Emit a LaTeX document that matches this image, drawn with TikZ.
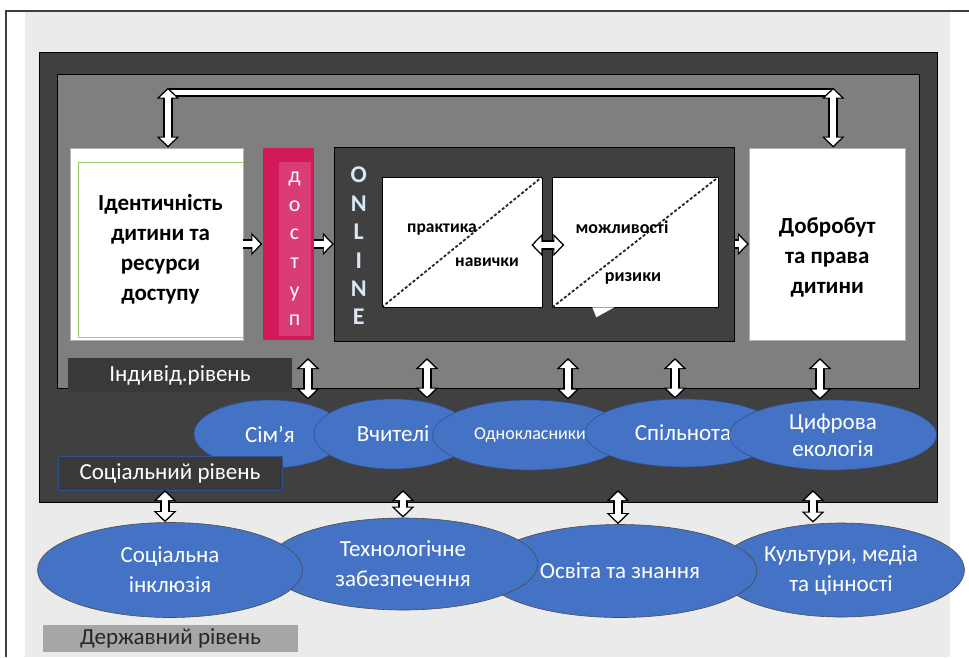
\documentclass[tikz,border=0pt]{standalone}
\usepackage{fontspec}
\setmainfont{Carlito}
\usetikzlibrary{arrows.meta,positioning,shapes.geometric}
\definecolor{Page}{HTML}{EBEBEB}
\definecolor{Dark}{HTML}{404040}
\definecolor{Mid}{HTML}{7F7F7F}
\definecolor{Label}{HTML}{3B3838}
\definecolor{Pink}{HTML}{D2195A}
\definecolor{PinkL}{HTML}{DA3C75}
\definecolor{Green}{HTML}{9BCB6B}
\definecolor{Ell}{HTML}{4472C4}
\definecolor{EllB}{HTML}{2F528F}
\definecolor{Gov}{HTML}{A6A6A6}
\definecolor{Letter}{HTML}{D9E8F6}

\begin{document}
\begin{tikzpicture}[x=1pt,y=-1pt,node distance=19pt,
panel/.style={draw=black,line width=1pt,inner sep=0pt},
card/.style={draw=gray!60,fill=white,line width=0.8pt,inner sep=0pt,minimum height=192pt},
pane/.style={draw=black,fill=white,line width=0.6pt,inner sep=0pt,minimum height=130pt},
big/.style={font=\fontsize{23}{30}\selectfont\bfseries,align=center},
small/.style={font=\fontsize{17.5}{20}\selectfont\bfseries,inner sep=1pt},
tag/.style={fill=Label,text=white,inner sep=0pt,font=\fontsize{23}{26}\selectfont},
oval/.style={ellipse,draw=EllB,fill=Ell,line width=0.6pt,text=white,inner sep=0pt,align=center,font=\fontsize{23}{27}\selectfont},
low/.style={oval,draw=black!70,font=\fontsize{23}{30}\selectfont},
diag/.style={densely dashed,line width=1.8pt,black!85},
rail/.style={draw=white,line width=5.5pt,preaction={draw=black,line width=9.5pt}},
biarr/.style={draw=white,line width=5.5pt,shorten <=2pt,shorten >=2pt,
  {Triangle[width=16pt,length=8pt]}-{Triangle[width=16pt,length=8pt]},
  preaction={draw=black,line width=9.5pt,shorten <=0pt,shorten >=0pt,
  {Triangle[width=22pt,length=11pt]}-{Triangle[width=22pt,length=11pt]}}},
fwd/.style={draw=white,line width=5.5pt,shorten >=2pt,-{Triangle[width=16pt,length=8pt]},
  preaction={draw=black,line width=9.5pt,shorten >=0pt,-{Triangle[width=22pt,length=11pt]}}}]
\useasboundingbox (0,0) rectangle (969,657);
% page and frames
\fill[Page] (25,12) rectangle (950,657);
\draw[gray!50!black,line width=1.2pt] (6,657) -- (6,11) -- (969,11);
\node[panel,fill=Dark,minimum width=898pt,minimum height=450pt] (soc) at (488,277) {};
\node[panel,fill=Mid,minimum width=862pt,minimum height=314pt] (ind) at (488,231) {};

% individual level
\node[card,minimum width=173pt] (ident) at (156.5,244) {};
\node[draw=Green,fill=white,line width=0.8pt,minimum width=165pt,minimum height=175pt,inner sep=0pt,anchor=south east,big] (identin) at ([yshift=3pt]ident.south east) {Ідентичність\\дитини та\\ресурси\\доступу};
\node[fill=Pink,minimum width=51pt,minimum height=192pt,inner sep=0pt,right=of ident] (dostup) {};
\node[fill=PinkL,minimum width=32pt,minimum height=174pt,inner sep=0pt,anchor=south east,text=white,align=center,font=\fontsize{22}{28.6}\selectfont] (letters) at ([xshift=-3pt,yshift=4pt]dostup.south east) {д\\о\\с\\т\\у\\п};
\node[panel,fill=Dark,minimum width=400pt,minimum height=194pt,right=20pt of dostup] (online) {};
\node[font=\fontsize{24}{28.4}\selectfont\bfseries,text=Letter,align=center,inner sep=0pt] (word) at ([xshift=25pt,yshift=-2pt]online.west) {O\\N\\L\\I\\N\\E};
\node[pane,minimum width=160pt] (prak) at (462,242) {};
\node[pane,minimum width=166pt,right=10pt of prak] (mozh) {};
\draw[diag] (prak.south west) -- (prak.north east);
\draw[diag] (mozh.south west) -- (mozh.north east);
\fill[white] ([xshift=40pt]mozh.south west) -- ++(22,0) -- ++(-18,10) -- cycle;
\node[small] (prakt) at (442,230) {практика};
\node[small] (nav) at (487,262) {навички};
\node[small,font=\fontsize{18}{20}\selectfont\bfseries] (mozl) at (622,227) {можливості};
\node[small,font=\fontsize{18}{20}\selectfont\bfseries] (riz) at (633,278) {ризики};
\draw[biarr] ([xshift=-11pt,yshift=-3pt]prak.east) -- ([xshift=12pt,yshift=-3pt]mozh.west);
\node[card,minimum width=156pt,right=14pt of online] (wb) {};
\node[big] (wbt) at ([yshift=-13pt]wb.center) {Добробут\\та права\\дитини};
\draw[fwd] (ident.east) -- (dostup.west);
\draw[fwd] (dostup.east) -- (online.west);
\draw[fwd] (online.east) -- (wb.west);
\coordinate (tl) at ([xshift=11.5pt]ident.north);
\coordinate (tr) at ([xshift=6pt]wb.north);
\draw[rail] ([yshift=55pt]tl) -- ([yshift=55pt]tr);
\draw[biarr] (tl) -- ([yshift=60pt]tl);
\draw[biarr] (tr) -- ([yshift=60pt]tr);
\node[tag,minimum width=224pt,minimum height=34pt] (lind) at (180,375) {Індивід.рівень};

% social level
\node[oval,minimum width=152pt,minimum height=68pt] (sim) at (270,434) {Сім’я};
\node[oval,minimum width=158pt,minimum height=70pt] (vch) at (393,434) {Вчителі};
\node[oval,minimum width=195pt,minimum height=70pt,font=\fontsize{18}{20}\selectfont] (odn) at (530,435) {Однокласники};
\node[oval,minimum width=196pt,minimum height=68pt] (spil) at (683,433) {Спільнота};
\node[oval,minimum width=207pt,minimum height=70pt] (cyf) at (833,435) {Цифрова\\екологія};
\foreach \x/\e in {308/sim,427/vch,568/odn,675/spil,820/cyf}
  \draw[biarr] (\x,358) -- (\x,0 |- \e.north);
\node[tag,draw=EllB,line width=0.5pt,minimum width=224pt,minimum height=34pt] (lsoc) at (170,473) {Соціальний рівень};

% state level
\node[low,minimum width=247pt,minimum height=94pt] (kult) at (841,570) {Культури, медіа\\та цінності};
\node[low,minimum width=274pt,minimum height=93pt] (osv) at (620,571) {Освіта та знання};
\node[low,minimum width=270pt,minimum height=92pt] (tech) at (403,564) {Технологічне\\забезпечення};
\node[low,minimum width=265pt,minimum height=95pt] (sinc) at (170,570) {Соціальна\\інклюзія};
\foreach \x/\e in {165/sinc,403/tech,618/osv,813/kult}
  \draw[biarr] (\x,490) -- (\x,0 |- \e.north);
\node[tag,fill=Gov,text=black!85,minimum width=255pt,minimum height=27pt,font=\fontsize{23}{25}\selectfont] (lgov) at (170.5,638.5) {Державний рівень};
\end{tikzpicture}
\end{document}
